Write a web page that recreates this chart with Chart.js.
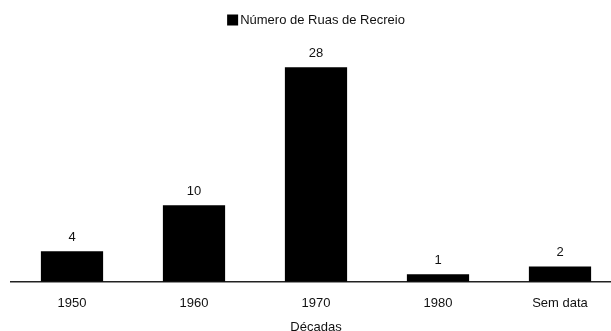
<!DOCTYPE html>
<html>
<head>
<meta charset="utf-8">
<script src="https://cdn.jsdelivr.net/npm/chart.js@4"></script>
<style>
  html, body { margin: 0; padding: 0; background: #fff; overflow: hidden; }
  #wrap { width: 621px; height: 331px; }
</style>
</head>
<body>
<div id="wrap"><canvas id="ctx" width="621" height="331"></canvas></div>
<script>
const $chart = document.getElementById('ctx')

const decadas = ['1950', '1960', '1970', '1980', 'Sem data']
const ruas = [4, 10, 28, 1, 2]
const serieNome = 'Número de Ruas de Recreio'

const fontFamily = '"Liberation Sans", Arial, Helvetica, sans-serif'
Chart.defaults.font.family = fontFamily
Chart.defaults.font.size = 13
Chart.defaults.color = '#111'

// value written above each bar
const valueLabels = {
    id: 'valueLabels',
    afterDatasetsDraw: (chart) => {
        const {ctx} = chart
        const meta = chart.getDatasetMeta(0)
        ctx.save()
        ctx.font = '13px ' + fontFamily
        ctx.fillStyle = '#111'
        ctx.textAlign = 'center'
        ctx.textBaseline = 'middle'
        meta.data.forEach((bar, i) => {
            ctx.fillText(chart.data.datasets[0].data[i], bar.x, bar.y - 14)
        })
        ctx.restore()
    }
}

// small legend: square tight against the text, centred over the plot
const squareLegend = {
    id: 'squareLegend',
    afterDraw: (chart) => {
        const {ctx} = chart
        const {left, right} = chart.chartArea
        const ds = chart.data.datasets[0]
        ctx.save()
        ctx.font = '13px ' + fontFamily
        const box = 11, gap = 2
        const w = box + gap + ctx.measureText(ds.label).width
        const x = (left + right) / 2 - w / 2
        const y = 20
        ctx.fillStyle = ds.backgroundColor
        ctx.fillRect(x, y - box / 2, box, box)
        ctx.fillStyle = '#111'
        ctx.textBaseline = 'middle'
        ctx.fillText(ds.label, x + box + gap, y)
        ctx.restore()
    }
}

const data = {
    labels: decadas,
    datasets: [{
        label: serieNome,
        data: ruas,
        backgroundColor: '#000',
        borderColor: '#000',
        borderWidth: 0,
        categoryPercentage: 1,
        barPercentage: 0.51
    }]
}

const options = {
    type: 'bar',
    data: data,
    options: {
        responsive: false,
        animation: false,
        layout: {
            padding: {left: 11, right: 0, top: 52, bottom: 0}
        },
        plugins: {
            legend: {display: false},
            tooltip: {enabled: false}
        },
        scales: {
            x: {
                grid: {display: false, drawTicks: false},
                border: {display: true, color: '#222', width: 1.5},
                ticks: {padding: 14, color: '#111'},
                title: {
                    display: true,
                    text: 'Décadas',
                    color: '#111',
                    padding: {top: -6, bottom: -4}
                }
            },
            y: {
                display: false,
                min: 0,
                max: 30
            }
        }
    },
    plugins: [valueLabels, squareLegend]
}

var chart = new Chart($chart, options);
</script>
</body>
</html>
